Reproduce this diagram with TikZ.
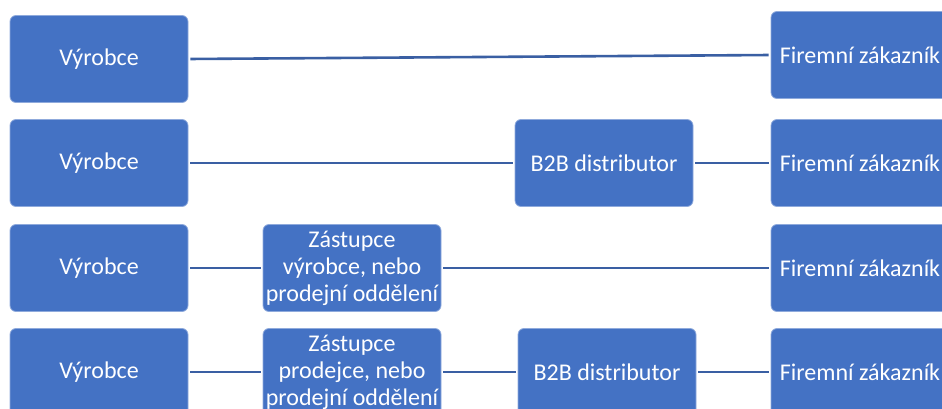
\documentclass[tikz,border=0pt]{standalone}
\usepackage{fontspec}
\setmainfont{Carlito}
\definecolor{boxblue}{HTML}{4472C4}
\definecolor{linkblue}{HTML}{3A5FA3}
\definecolor{rimblue}{HTML}{8FAADC}
\begin{document}
\begin{tikzpicture}[x=1pt,y=-1pt,
  stage/.style={draw=rimblue, line width=0.8pt, fill=boxblue, rounded corners=6pt,
    minimum width=178pt, minimum height=87pt, inner sep=0pt, text=white,
    align=center, font=\fontsize{24}{27}\selectfont},
  link/.style={draw=linkblue, line width=2.6pt, shorten <=2pt, shorten >=2pt}]
\useasboundingbox (0,0) rectangle (942,409);
\clip (0,0) rectangle (942,409);

% row 1: manufacturer straight to business customer
\node[stage] (v1) at (99,59) {Výrobce};
\node[stage] (f1) at (860,55) {Firemní zákazník};
\draw[link] (v1.east) -- (f1.west);

% row 2: through a B2B distributor
\node[stage] (v2) at (99,163) {Výrobce};
\node[stage] (d2) at (604,163) {B2B distributor};
\node[stage] (f2) at (860,163) {Firemní zákazník};
\draw[link] (v2.east) -- (d2.west);
\draw[link] (d2.east) -- (f2.west);

% row 3: through the manufacturer's agent or sales department
\node[stage] (v3) at (99,268) {Výrobce};
\node[stage] (z3) at (352,268) {Zástupce\\výrobce, nebo\\prodejní oddělení};
\node[stage] (f3) at (860,268) {Firemní zákazník};
\draw[link] (v3.east) -- (z3.west);
\draw[link] (z3.east) -- (f3.west);

% row 4: agent, then B2B distributor
\node[stage] (v4) at (99,372) {Výrobce};
\node[stage] (z4) at (352,372) {Zástupce\\prodejce, nebo\\prodejní oddělení};
\node[stage] (d4) at (607,372) {B2B distributor};
\node[stage] (f4) at (860,372) {Firemní zákazník};
\draw[link] (v4.east) -- (z4.west);
\draw[link] (z4.east) -- (d4.west);
\draw[link] (d4.east) -- (f4.west);
\end{tikzpicture}
\end{document}
